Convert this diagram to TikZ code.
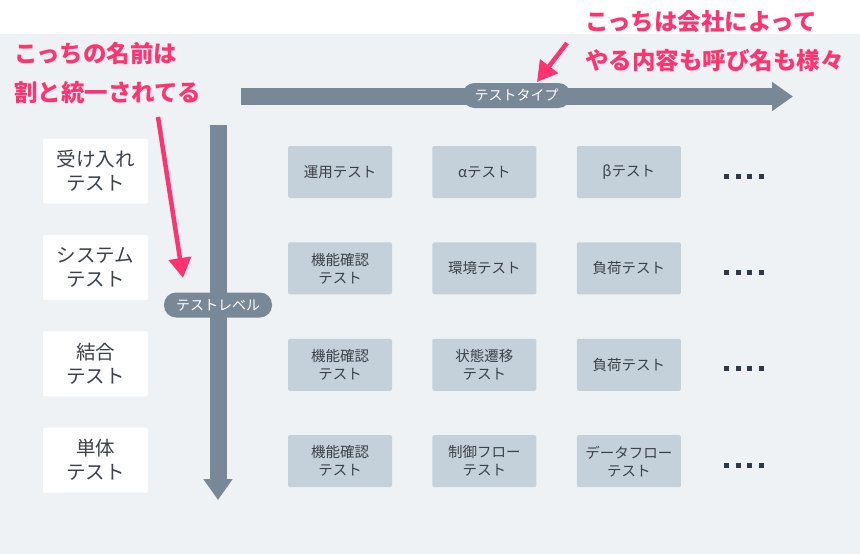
\documentclass[tikz,border=0pt]{standalone}
\usepackage{fontspec}
\setmainfont{Noto Sans CJK JP}
\usepackage{xcolor}
\usepackage{tikz}
\usetikzlibrary{arrows.meta,positioning,calc}
\definecolor{bgc}{HTML}{EFF2F5}
\definecolor{axc}{HTML}{798897}
\definecolor{cellc}{HTML}{C4D0DA}
\definecolor{txtc}{HTML}{3B4148}
\definecolor{pinkc}{HTML}{FF3370}
\definecolor{dotc}{HTML}{2C3A47}

\begin{document}
\begin{tikzpicture}[x=1pt,y=-1pt,
  lv/.style={fill=white,rounded corners=2pt,minimum width=105pt,minimum height=65pt,inner sep=0pt,
    align=center,text=txtc,font=\fontsize{19.5}{24}\selectfont},
  cell/.style={fill=cellc,rounded corners=1.5pt,minimum width=104pt,minimum height=52pt,inner sep=0pt,
    align=center,text=txtc,font=\fontsize{14.5}{18}\selectfont},
  axis/.style={draw=axc,line width=17pt,-{Triangle[width=28pt,length=21pt]}},
  pill/.style={fill=axc,text=white,rounded corners=12pt,minimum height=25pt,inner xsep=12pt,
    font=\fontsize{14}{14}\selectfont},
  note/.style={text=pinkc,align=left,inner sep=0pt,font=\fontsize{23.5}{39}\selectfont\bfseries},
  pk/.style={draw=pinkc,line width=4.5pt,-{Triangle[width=22pt,length=20pt]}}]
  \useasboundingbox (0,0) rectangle (860,554);
  \fill[white] (0,0) rectangle (860,34);
  \fill[bgc] (0,34) rectangle (860,554);
  % axes
  \coordinate (ts) at (241,96.5);
  \coordinate (te) at (793,96.5);
  \draw[axis] (ts) -- (te);
  \node[pill] (typ) at (516.5,95.5) {テストタイプ};
  \coordinate (ls) at (218,125);
  \coordinate (le) at (218,500);
  \draw[axis] (ls) -- (le);
  \node[pill] (lvl) at (218,305) {テストレベル};
  % test levels
  \node[lv] (lv1) at (95.5,171) {受け入れ\\テスト};
  \node[lv,below=31pt of lv1] (lv2) {システム\\テスト};
  \node[lv,below=31pt of lv2] (lv3) {結合\\テスト};
  \node[lv,below=31pt of lv3] (lv4) {単体\\テスト};
  % test types
  \node[cell] (c11) at (340,172) {運用テスト};
  \node[cell,right=40pt of c11] (c12) {αテスト};
  \node[cell,right=40pt of c12] (c13) {βテスト};
  \node[cell,below=44pt of c11] (c21) {機能確認\\テスト};
  \node[cell,right=40pt of c21] (c22) {環境テスト};
  \node[cell,right=40pt of c22] (c23) {負荷テスト};
  \node[cell,below=44pt of c21] (c31) {機能確認\\テスト};
  \node[cell,right=40pt of c31] (c32) {状態遷移\\テスト};
  \node[cell,right=40pt of c32] (c33) {負荷テスト};
  \node[cell,below=44pt of c31] (c41) {機能確認\\テスト};
  \node[cell,right=40pt of c41] (c42) {制御フロー\\テスト};
  \node[cell,right=40pt of c42] (c43) {データフロー\\テスト};
  \foreach \row in {1,...,4}
    \foreach \k in {0,...,3}
      \fill[dotc] ($(c\row3.east)+(43+\k*11.7,1.5)$) rectangle ++(5,5);
  % notes
  \node[note,anchor=west] (n1) at (14,73) {こっちの名前は\\割と統一されてる};
  \node[note,anchor=west] (n2) at (585,41) {こっちは会社によって\\やる内容も呼び名も様々};
  \coordinate (p1s) at (158,117);
  \coordinate (p1e) at (183,278);
  \draw[pk] (p1s) -- (p1e);
  \coordinate (p2s) at (567,43);
  \coordinate (p2e) at (537,82);
  \draw[pk] (p2s) -- (p2e);
\end{tikzpicture}
\end{document}
